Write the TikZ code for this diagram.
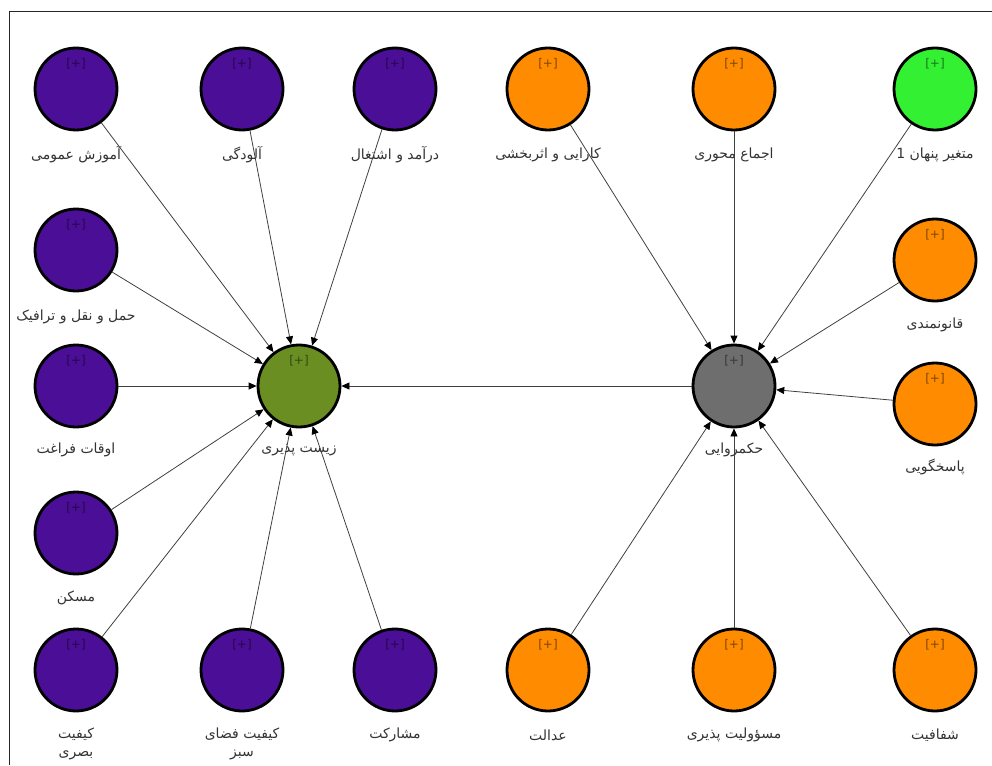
\documentclass[tikz,border=0pt]{standalone}
\usepackage{fontspec}
\setmainfont{DejaVu Sans}
\newfontfamily\arabicfont[Script=Arabic]{DejaVu Sans}
\TeXXeTstate=1
\usetikzlibrary{arrows.meta}
\definecolor{lvpurple}{RGB}{75,14,150}
\definecolor{lvorange}{RGB}{255,140,0}
\definecolor{lvlime}{RGB}{51,240,51}
\definecolor{lvolive}{RGB}{107,142,35}
\definecolor{lvgray}{RGB}{110,110,110}
\newcommand{\fatext}[1]{{\arabicfont\beginR #1\endR}}

\begin{document}
\begin{tikzpicture}[x=1pt,y=-1pt,
  latent/.style={circle,draw=black,line width=2.8pt,minimum size=82pt,inner sep=0pt,fill=#1,
    label={[plusmark,label distance=-23pt]90:{[+]}}},
  plusmark/.style={font=\fontsize{12}{13}\selectfont,inner sep=0pt,text=black,text opacity=0.5},
  lab/.style={font=\fontsize{14}{18}\selectfont,text=black!80,align=center},
  link/.style={draw=black!75,line width=0.8pt,-{Triangle[length=8pt,width=7pt,color=black]}}]
\useasboundingbox (0,0) rectangle (992,765);
\draw[black!85,line width=1pt] (992,12) -- (9,12) -- (9,765);

% top row
\node[latent=lvpurple] (edu) at (76,89) {};
\node[lab] (edu-lab) at (76,155) {\fatext{آموزش عمومی}};
\node[latent=lvpurple] (pollution) at (242,89) {};
\node[lab] (pollution-lab) at (242,155) {\fatext{آلودگی}};
\node[latent=lvpurple] (income) at (395,89) {};
\node[lab] (income-lab) at (395,155) {\fatext{درآمد و اشتغال}};
\node[latent=lvorange] (effic) at (548,89) {};
\node[lab] (effic-lab) at (548,155) {\fatext{کارایی و اثربخشی}};
\node[latent=lvorange] (consensus) at (734,89) {};
\node[lab] (consensus-lab) at (734,155) {\fatext{اجماع محوری}};
\node[latent=lvlime] (latent1) at (935,89) {};
\node[lab] (latent1-lab) at (935,155) {\fatext{متغیر پنهان 1}};

% left column
\node[latent=lvpurple] (traffic) at (76,250) {};
\node[lab] (traffic-lab) at (76,317) {\fatext{حمل و نقل و ترافیک}};
\node[latent=lvpurple] (leisure) at (76,386) {};
\node[lab] (leisure-lab) at (76,450) {\fatext{اوقات فراغت}};
\node[latent=lvpurple] (housing) at (76,533) {};
\node[lab] (housing-lab) at (76,598) {\fatext{مسکن}};

% right column
\node[latent=lvorange] (lawful) at (935,260) {};
\node[lab] (lawful-lab) at (935,325) {\fatext{قانونمندی}};
\node[latent=lvorange] (respons) at (935,404) {};
\node[lab] (respons-lab) at (935,467) {\fatext{پاسخگویی}};

% the two targets
\node[latent=lvolive] (live) at (299,386) {};
\node[lab] (live-lab) at (299,450) {\fatext{زیست پذیری}};
\node[latent=lvgray] (gov) at (734,386) {};
\node[lab] (gov-lab) at (734,450) {\fatext{حکمروایی}};

% bottom row
\node[latent=lvpurple] (visual) at (76,670) {};
\node[lab] (visual-lab) at (76,744) {\fatext{کیفیت}\\\fatext{بصری}};
\node[latent=lvpurple] (greensp) at (242,670) {};
\node[lab] (greensp-lab) at (242,744) {\fatext{کیفیت فضای}\\\fatext{سبز}};
\node[latent=lvpurple] (partic) at (395,670) {};
\node[lab] (partic-lab) at (395,735) {\fatext{مشارکت}};
\node[latent=lvorange] (justice) at (548,670) {};
\node[lab] (justice-lab) at (548,735) {\fatext{عدالت}};
\node[latent=lvorange] (accountab) at (734,670) {};
\node[lab] (accountab-lab) at (734,735) {\fatext{مسؤولیت پذیری}};
\node[latent=lvorange] (transp) at (935,670) {};
\node[lab] (transp-lab) at (935,735) {\fatext{شفافیت}};

% paths into livability
\draw[link] (edu) -- (live);
\draw[link] (pollution) -- (live);
\draw[link] (income) -- (live);
\draw[link] (traffic) -- (live);
\draw[link] (leisure) -- (live);
\draw[link] (housing) -- (live);
\draw[link] (visual) -- (live);
\draw[link] (greensp) -- (live);
\draw[link] (partic) -- (live);
\draw[link] (gov) -- (live);

% paths into governance
\draw[link] (effic) -- (gov);
\draw[link] (consensus) -- (gov);
\draw[link] (latent1) -- (gov);
\draw[link] (lawful) -- (gov);
\draw[link] (respons) -- (gov);
\draw[link] (justice) -- (gov);
\draw[link] (accountab) -- (gov);
\draw[link] (transp) -- (gov);
\end{tikzpicture}
\end{document}
